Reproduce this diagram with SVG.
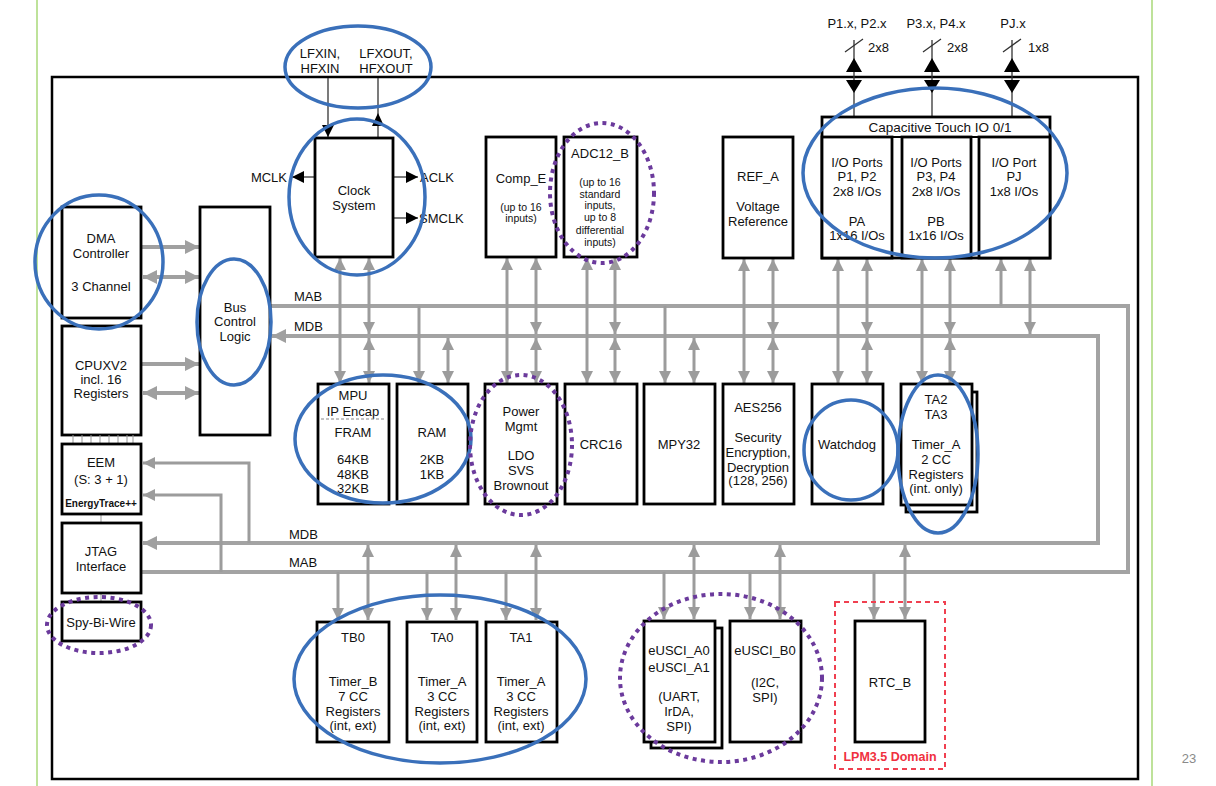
<svg xmlns="http://www.w3.org/2000/svg" width="1216" height="786" viewBox="0 0 1216 786">
<style>
.box{fill:#fff;stroke:#000;stroke-width:2.8}
.t{font-family:"Liberation Sans",Arial,sans-serif;font-size:13px;fill:#111;text-anchor:middle}
.s{font-size:10.5px}
.l{text-anchor:start}
.e{text-anchor:end}
.bus{fill:none;stroke:#a3a3a3;stroke-width:4}
.ln{fill:none;stroke:#9c9c9c;stroke-width:3}
.thk{fill:none;stroke:#a0a0a0;stroke-width:4}
.kl{fill:none;stroke:#333;stroke-width:1.3}
.blue{fill:none;stroke:#3a70ba;stroke-width:3.5}
.purple{fill:none;stroke:#6b3a9c;stroke-width:4;stroke-dasharray:4 4.5}
</style>
<defs>
<marker id="ga" viewBox="0 0 12 12" refX="12" refY="6" markerWidth="12" markerHeight="12" markerUnits="userSpaceOnUse" orient="auto-start-reverse"><path d="M0,0 L12,6 L0,12 z" fill="#9c9c9c"/></marker>
<marker id="gb" viewBox="0 0 14 14" refX="14" refY="7" markerWidth="14" markerHeight="14" markerUnits="userSpaceOnUse" orient="auto-start-reverse"><path d="M0,0 L14,7 L0,14 z" fill="#a0a0a0"/></marker>
<marker id="ka" viewBox="0 0 12 12" refX="12" refY="6" markerWidth="12" markerHeight="12" markerUnits="userSpaceOnUse" orient="auto-start-reverse"><path d="M0,0 L12,6 L0,12 z" fill="#000"/></marker>
</defs>
<rect width="1216" height="786" fill="#fff"/>
<line x1="37" y1="0" x2="37" y2="786" stroke="#a8d878" stroke-width="1.5"/>
<line x1="1152" y1="0" x2="1152" y2="786" stroke="#a8d878" stroke-width="1.5"/>
<text class="t" x="1189" y="763" style="font-size:13px;fill:#8a8a8a">23</text>
<rect x="52" y="77" width="1086" height="702" fill="none" stroke="#000" stroke-width="2.5"/>

<g id="connectors">
<path class="bus" d="M270 306 H1128 V572 H142"/>
<path class="bus" d="M272 336 H1098 V543 H143" marker-start="url(#gb)" marker-end="url(#gb)"/>
<path class="thk" d="M142 247 H199" marker-end="url(#gb)"/>
<path class="thk" d="M143 277 H199" marker-start="url(#gb)" marker-end="url(#gb)"/>
<path class="thk" d="M142 364 H199" marker-end="url(#gb)"/>
<path class="thk" d="M143 393 H199" marker-start="url(#gb)" marker-end="url(#gb)"/>
<path class="ln" d="M249 543 V463 H143" marker-end="url(#ga)"/>
<path class="ln" d="M221 572 V495 H143" marker-end="url(#ga)"/>
<path class="ln" d="M340 258 V383" marker-start="url(#ga)" marker-end="url(#ga)"/>
<path class="ln" d="M369 258 V334" marker-start="url(#ga)" marker-end="url(#ga)"/>
<path class="ln" d="M369 338 V383" marker-start="url(#ga)" marker-end="url(#ga)"/>
<path class="ln" d="M419 306 V383" marker-end="url(#ga)"/>
<path class="ln" d="M448 338 V383" marker-start="url(#ga)" marker-end="url(#ga)"/>
<path class="ln" d="M507 258 V383" marker-start="url(#ga)" marker-end="url(#ga)"/>
<path class="ln" d="M536 258 V334" marker-start="url(#ga)" marker-end="url(#ga)"/>
<path class="ln" d="M536 338 V383" marker-start="url(#ga)" marker-end="url(#ga)"/>
<path class="ln" d="M587 258 V383" marker-start="url(#ga)" marker-end="url(#ga)"/>
<path class="ln" d="M615 258 V334" marker-start="url(#ga)" marker-end="url(#ga)"/>
<path class="ln" d="M615 338 V383" marker-start="url(#ga)" marker-end="url(#ga)"/>
<path class="ln" d="M665 306 V383" marker-end="url(#ga)"/>
<path class="ln" d="M694 338 V383" marker-start="url(#ga)" marker-end="url(#ga)"/>
<path class="ln" d="M744 259 V383" marker-start="url(#ga)" marker-end="url(#ga)"/>
<path class="ln" d="M773 259 V334" marker-start="url(#ga)" marker-end="url(#ga)"/>
<path class="ln" d="M773 338 V383" marker-start="url(#ga)" marker-end="url(#ga)"/>
<path class="ln" d="M838 259 V383" marker-start="url(#ga)" marker-end="url(#ga)"/>
<path class="ln" d="M867 259 V334" marker-start="url(#ga)" marker-end="url(#ga)"/>
<path class="ln" d="M867 338 V383" marker-start="url(#ga)" marker-end="url(#ga)"/>
<path class="ln" d="M922 259 V383" marker-start="url(#ga)" marker-end="url(#ga)"/>
<path class="ln" d="M950 259 V334" marker-start="url(#ga)" marker-end="url(#ga)"/>
<path class="ln" d="M950 338 V383" marker-start="url(#ga)" marker-end="url(#ga)"/>
<path class="ln" d="M1001 259 V306" marker-start="url(#ga)"/>
<path class="ln" d="M1030 259 V334" marker-start="url(#ga)" marker-end="url(#ga)"/>
<path class="ln" d="M338 572 V620" marker-end="url(#ga)"/>
<path class="ln" d="M368 545 V620" marker-start="url(#ga)" marker-end="url(#ga)"/>
<path class="ln" d="M427 572 V620" marker-end="url(#ga)"/>
<path class="ln" d="M456 545 V620" marker-start="url(#ga)" marker-end="url(#ga)"/>
<path class="ln" d="M506 572 V620" marker-end="url(#ga)"/>
<path class="ln" d="M536 545 V620" marker-start="url(#ga)" marker-end="url(#ga)"/>
<path class="ln" d="M664 572 V619" marker-end="url(#ga)"/>
<path class="ln" d="M694 545 V619" marker-start="url(#ga)" marker-end="url(#ga)"/>
<path class="ln" d="M750 572 V619" marker-end="url(#ga)"/>
<path class="ln" d="M780 545 V619" marker-start="url(#ga)" marker-end="url(#ga)"/>
<path class="ln" d="M874 572 V619" marker-end="url(#ga)"/>
<path class="ln" d="M905 545 V619" marker-start="url(#ga)" marker-end="url(#ga)"/>
<path class="kl" d="M328 78 V137" marker-end="url(#ka)"/>
<path class="kl" d="M378 138 V78"/>
<path d="M378 113 L384 126 L372 126 z" fill="#000"/>
<path class="kl" d="M314 177 H292" marker-end="url(#ka)"/>
<path class="kl" d="M394 177 H418" marker-end="url(#ka)"/>
<path class="kl" d="M394 218 H418" marker-end="url(#ka)"/>
<g fill="#000">
<path class="kl" d="M854 40 V117"/><path d="M854 58 L862 72 L846 72 z M846 80 L862 80 L854 93 z"/>
<path class="kl" d="M932 40 V117"/><path d="M932 58 L940 72 L924 72 z M924 80 L940 80 L932 93 z"/>
<path class="kl" d="M1012 40 V117"/><path d="M1012 58 L1020 72 L1004 72 z M1004 80 L1020 80 L1012 93 z"/>
</g>
<path class="kl" d="M845 52 L863 39 M923 52 L941 39 M1003 52 L1021 39"/>
<text class="t" x="857" y="28">P1.x, P2.x</text>
<text class="t" x="936" y="28">P3.x, P4.x</text>
<text class="t" x="1013" y="28">PJ.x</text>
<text class="t l" x="868" y="52">2x8</text>
<text class="t l" x="947" y="52">2x8</text>
<text class="t l" x="1028" y="52">1x8</text>
<text class="t l" x="294" y="301">MAB</text>
<text class="t l" x="294" y="331">MDB</text>
<text class="t l" x="289" y="539">MDB</text>
<text class="t l" x="289" y="567">MAB</text>
<text class="t" x="320" y="58">LFXIN,</text>
<text class="t" x="320" y="73">HFXIN</text>
<text class="t" x="386" y="58">LFXOUT,</text>
<text class="t" x="386" y="73">HFXOUT</text>
<text class="t e" x="287" y="182">MCLK</text>
<text class="t l" x="420" y="182">ACLK</text>
<text class="t l" x="419" y="223">SMCLK</text>
</g>

<g id="dma"><rect class="box" x="62" y="207" width="79" height="111"/>
<text class="t" x="101" y="243">DMA</text><text class="t" x="101" y="258">Controller</text><text class="t" x="101" y="291">3 Channel</text></g>
<g id="cpu"><rect class="box" x="62" y="326" width="79" height="109"/>
<text class="t" x="101" y="370">CPUXV2</text><text class="t" x="101" y="384">incl. 16</text><text class="t" x="101" y="398">Registers</text></g>
<g id="cpu-eem-links" stroke="#999" stroke-width="1"><path d="M73 435V444M82 435V444M91 435V444M100 435V444M109 435V444M118 435V444M127 435V444M133 435V444"/><path d="M101 514V523M101 593V602"/></g>
<g id="eem"><rect class="box" x="62" y="444" width="79" height="70"/>
<text class="t" x="101" y="467">EEM</text><text class="t" x="101" y="484">(S: 3 + 1)</text><text class="t" x="101" y="507" style="font-size:10px;font-weight:bold">EnergyTrace++</text></g>
<g id="jtag"><rect class="box" x="62" y="523" width="79" height="70"/>
<text class="t" x="101" y="556">JTAG</text><text class="t" x="101" y="571">Interface</text></g>
<g id="sbw"><rect class="box" x="62" y="602" width="79" height="39"/>
<text class="t" x="101" y="627">Spy-Bi-Wire</text></g>
<g id="busctl"><rect class="box" x="200" y="207" width="70" height="228"/>
<text class="t" x="235" y="312">Bus</text><text class="t" x="235" y="326">Control</text><text class="t" x="235" y="341">Logic</text></g>

<g id="clock"><rect class="box" x="315" y="138" width="78" height="119"/>
<text class="t" x="354" y="195">Clock</text><text class="t" x="354" y="210">System</text></g>
<g id="comp"><rect class="box" x="486" y="137" width="70" height="120"/>
<text class="t" x="521" y="183">Comp_E</text><text class="t s" x="521" y="211">(up to 16</text><text class="t s" x="521" y="222">inputs)</text></g>
<g id="adc"><rect class="box" x="564" y="137" width="73" height="120"/>
<text class="t" x="600" y="158">ADC12_B</text>
<text class="t s" x="600" y="186">(up to 16</text><text class="t s" x="600" y="198">standard</text><text class="t s" x="600" y="209">inputs,</text><text class="t s" x="600" y="221">up to 8</text><text class="t s" x="600" y="234">differential</text><text class="t s" x="600" y="246">inputs)</text></g>
<g id="refa"><rect class="box" x="723" y="137" width="70" height="121"/>
<text class="t" x="758" y="181">REF_A</text><text class="t" x="758" y="211">Voltage</text><text class="t" x="758" y="226">Reference</text></g>
<g id="ports"><rect class="box" x="822" y="117" width="228" height="141"/>
<line x1="822" y1="137" x2="1050" y2="137" stroke="#000" stroke-width="2"/>
<text class="t" x="940" y="132" style="font-size:13.5px">Capacitive Touch IO 0/1</text>
<rect class="box" x="822" y="137" width="70" height="121"/>
<rect class="box" x="902" y="137" width="69" height="121"/>
<rect class="box" x="979" y="137" width="71" height="121"/>
<text class="t" x="857" y="167">I/O Ports</text><text class="t" x="857" y="181">P1, P2</text><text class="t" x="857" y="196">2x8 I/Os</text><text class="t" x="857" y="226">PA</text><text class="t" x="857" y="240">1x16 I/Os</text>
<text class="t" x="936" y="167">I/O Ports</text><text class="t" x="936" y="181">P3, P4</text><text class="t" x="936" y="196">2x8 I/Os</text><text class="t" x="936" y="226">PB</text><text class="t" x="936" y="240">1x16 I/Os</text>
<text class="t" x="1014" y="167">I/O Port</text><text class="t" x="1014" y="181">PJ</text><text class="t" x="1014" y="196">1x8 I/Os</text></g>

<g id="mpu"><rect class="box" x="318" y="384" width="71" height="120"/>
<text class="t" x="353" y="400">MPU</text><text class="t" x="353" y="416">IP Encap</text>
<line x1="321" y1="419" x2="386" y2="419" stroke="#888" stroke-width="1.2" stroke-dasharray="3 2"/>
<text class="t" x="353" y="437">FRAM</text><text class="t" x="353" y="464">64KB</text><text class="t" x="353" y="479">48KB</text><text class="t" x="353" y="493">32KB</text></g>
<g id="ram"><rect class="box" x="397" y="384" width="71" height="120"/>
<text class="t" x="432" y="437">RAM</text><text class="t" x="432" y="464">2KB</text><text class="t" x="432" y="479">1KB</text></g>
<g id="pmm"><rect class="box" x="485" y="384" width="72" height="120"/>
<text class="t" x="521" y="416">Power</text><text class="t" x="521" y="431">Mgmt</text><text class="t" x="521" y="460">LDO</text><text class="t" x="521" y="475">SVS</text><text class="t" x="521" y="490">Brownout</text></g>
<g id="crc"><rect class="box" x="565" y="384" width="72" height="120"/><text class="t" x="601" y="449">CRC16</text></g>
<g id="mpy"><rect class="box" x="644" y="384" width="71" height="120"/><text class="t" x="679" y="449">MPY32</text></g>
<g id="aes"><rect class="box" x="723" y="384" width="71" height="120"/>
<text class="t" x="758" y="412">AES256</text><text class="t" x="758" y="442">Security</text><text class="t" x="758" y="457">Encryption,</text><text class="t" x="758" y="472">Decryption</text><text class="t" x="758" y="485">(128, 256)</text></g>
<g id="wdt"><rect class="box" x="812" y="384" width="71" height="120"/><text class="t" x="847" y="449">Watchdog</text></g>
<g id="ta23"><rect class="box" x="906" y="392" width="71" height="120"/><rect class="box" x="901" y="384" width="71" height="121"/>
<text class="t" x="936" y="404">TA2</text><text class="t" x="936" y="419">TA3</text><text class="t" x="936" y="449">Timer_A</text><text class="t" x="936" y="464">2 CC</text><text class="t" x="936" y="479">Registers</text><text class="t" x="936" y="493">(int. only)</text></g>

<g id="tb0"><rect class="box" x="317" y="622" width="72" height="120"/>
<text class="t" x="353" y="642">TB0</text><text class="t" x="353" y="686">Timer_B</text><text class="t" x="353" y="701">7 CC</text><text class="t" x="353" y="716">Registers</text><text class="t" x="353" y="730">(int, ext)</text></g>
<g id="ta0"><rect class="box" x="407" y="622" width="70" height="120"/>
<text class="t" x="442" y="642">TA0</text><text class="t" x="442" y="686">Timer_A</text><text class="t" x="442" y="701">3 CC</text><text class="t" x="442" y="716">Registers</text><text class="t" x="442" y="730">(int, ext)</text></g>
<g id="ta1"><rect class="box" x="486" y="622" width="71" height="120"/>
<text class="t" x="521" y="642">TA1</text><text class="t" x="521" y="686">Timer_A</text><text class="t" x="521" y="701">3 CC</text><text class="t" x="521" y="716">Registers</text><text class="t" x="521" y="730">(int, ext)</text></g>
<g id="eusci-a"><rect class="box" x="651" y="628" width="71" height="120"/><rect class="box" x="644" y="621" width="71" height="121"/>
<text class="t" x="679" y="655">eUSCI_A0</text><text class="t" x="679" y="672">eUSCI_A1</text><text class="t" x="679" y="701">(UART,</text><text class="t" x="679" y="716">IrDA,</text><text class="t" x="679" y="731">SPI)</text></g>
<g id="eusci-b"><rect class="box" x="730" y="621" width="71" height="121"/>
<text class="t" x="765" y="655">eUSCI_B0</text><text class="t" x="765" y="687">(I2C,</text><text class="t" x="765" y="702">SPI)</text></g>
<g id="rtc"><rect x="835" y="602" width="110" height="167" fill="none" stroke="#f04050" stroke-width="2" stroke-dasharray="5 4"/>
<rect class="box" x="855" y="621" width="70" height="121"/>
<text class="t" x="890" y="687">RTC_B</text>
<text class="t" x="890" y="761" style="font-size:12.5px;font-weight:bold;fill:#f03040">LPM3.5 Domain</text></g>

<g id="annotations">
<ellipse class="blue" cx="358" cy="67" rx="73" ry="41"/>
<ellipse class="blue" cx="357" cy="197" rx="68" ry="78"/>
<ellipse class="purple" cx="602" cy="193" rx="52" ry="70"/>
<ellipse class="blue" cx="935" cy="173" rx="132" ry="85"/>
<ellipse class="blue" cx="99" cy="262" rx="64" ry="67"/>
<ellipse class="blue" cx="234" cy="322" rx="37" ry="63"/>
<ellipse class="purple" cx="99" cy="625" rx="52" ry="28"/>
<ellipse class="blue" cx="383" cy="439" rx="88" ry="64"/>
<ellipse class="purple" cx="521" cy="445" rx="51" ry="70"/>
<ellipse class="blue" cx="851" cy="450" rx="47" ry="50"/>
<ellipse class="blue" cx="938" cy="454" rx="40" ry="79"/>
<ellipse class="blue" cx="440" cy="679" rx="146" ry="84"/>
<ellipse class="purple" cx="721" cy="678" rx="101" ry="84"/>
</g>
</svg>
